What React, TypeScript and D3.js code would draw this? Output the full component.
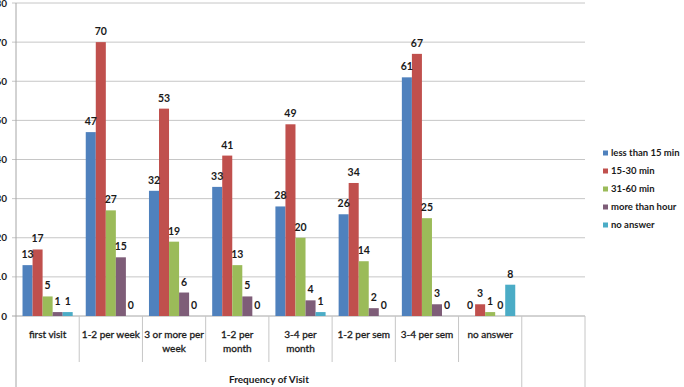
import React from "react";
import * as d3 from "d3";

// ---- data ----
const categories = [
  "first visit",
  "1-2 per week",
  "3 or more per\nweek",
  "1-2 per\nmonth",
  "3-4 per\nmonth",
  "1-2 per sem",
  "3-4 per sem",
  "no answer",
  "",
];
const groupLabel = "Frequency of Visit";
const seriesNames = ["less than 15 min", "15-30 min", "31-60 min", "more than hour", "no answer"];
const lessThan15 = [13, 47, 32, 33, 28, 26, 61, 0];
const min15to30 = [17, 70, 53, 41, 49, 34, 67, 3];
const min31to60 = [5, 27, 19, 13, 20, 14, 25, 1];
const moreThanHour = [1, 15, 6, 5, 4, 2, 3, 0];
const noAnswer = [1, 0, 0, 0, 1, 0, 0, 8];
const seriesValues = [lessThan15, min15to30, min31to60, moreThanHour, noAnswer];
const yTicks = [0, 10, 20, 30, 40, 50, 60, 70, 80];
const colors = ["#4F81BD", "#C0504D", "#9BBB59", "#7E5D78", "#4BACC6"];

const W = 684;
const H = 387;
const FONT = "Lato, 'Open Sans', sans-serif";

export default function App() {
  const left = 16;
  const right = 585;
  const top = 3;
  const bottom = 316;

  const x = d3.scaleBand<string>().domain(categories.map((_, i) => String(i))).range([left, right]).paddingInner(0).paddingOuter(0);
  const inner = d3
    .scaleBand<string>()
    .domain(seriesNames)
    .range([0, x.bandwidth()])
    .paddingInner(0)
    .paddingOuter(0.65);
  const y = d3.scaleLinear().domain([0, 80]).range([bottom, top]);

  const boundaries = categories.map((_, i) => x(String(i)) as number).concat([right]);
  const groupEnd = x(String(7))! + x.bandwidth();

  return (
    <svg width={W} height={H} style={{ position: "absolute", left: 0, top: 0, background: "#fff" }} fontFamily={FONT}>
      {/* gridlines */}
      {yTicks.map((t) => (
        <line key={"g" + t} x1={left - 4} x2={right} y1={y(t)} y2={y(t)} stroke={t === 0 ? "#a6a6a6" : "#c6c6c6"} strokeWidth={1} />
      ))}
      {/* y labels */}
      {yTicks.map((t) => (
        <text key={"yl" + t} x={7} y={y(t)} dy="0.35em" textAnchor="end" fontSize={10} fontWeight="bold" fill="#222">
          {t}
        </text>
      ))}
      {/* y axis line */}
      <line x1={left} x2={left} y1={top} y2={H} stroke="#a6a6a6" />
      {/* category separators */}
      {boundaries.slice(1).map((bx, i) => {
        const idx = i + 1;
        const long = idx === 8 || idx === 9;
        return <line key={"s" + idx} x1={bx} x2={bx} y1={bottom} y2={long ? H : 362} stroke="#c6c6c6" />;
      })}
      {/* bars */}
      {seriesValues.map((vals, si) =>
        vals.map((v, ci) => {
          const bx = (x(String(ci)) as number) + (inner(seriesNames[si]) as number);
          return (
            <rect key={`b${si}-${ci}`} x={bx} y={y(v)} width={inner.bandwidth()} height={y(0) - y(v)} fill={colors[si]} />
          );
        })
      )}
      {/* data labels */}
      {seriesValues.map((vals, si) =>
        vals.map((v, ci) => {
          const cx = (x(String(ci)) as number) + (inner(seriesNames[si]) as number) + inner.bandwidth() / 2;
          return (
            <text key={`l${si}-${ci}`} x={cx} y={y(v) - 7} textAnchor="middle" fontSize={10.5} fontWeight="bold" fill="#1a1a1a">
              {v}
            </text>
          );
        })
      )}
      {/* category labels */}
      {categories.map((c, i) => {
        const cx = (x(String(i)) as number) + x.bandwidth() / 2;
        return c.split("\n").map((line, li) => (
          <text
            key={`c${i}-${li}`}
            x={cx}
            y={338 + li * 14}
            textAnchor="middle"
            fontSize={10}
            fill="#1a1a1a"
            stroke="#1a1a1a"
            strokeWidth={0.3}
          >
            {line}
          </text>
        ));
      })}
      {/* group label */}
      <text x={(left + groupEnd) / 2} y={383} textAnchor="middle" fontSize={10} fontWeight="bold" fill="#1a1a1a">
        {groupLabel}
      </text>
      {/* legend */}
      {seriesNames.map((s, i) => {
        const ly = 153 + i * 18;
        return (
          <g key={"lg" + i}>
            <rect x={603} y={ly - 2.5} width={5} height={5} fill={colors[i]} />
            <text x={611} y={ly} dy="0.35em" fontSize={9.5} fontWeight="bold" fill="#1a1a1a">
              {s}
            </text>
          </g>
        );
      })}
    </svg>
  );
}
